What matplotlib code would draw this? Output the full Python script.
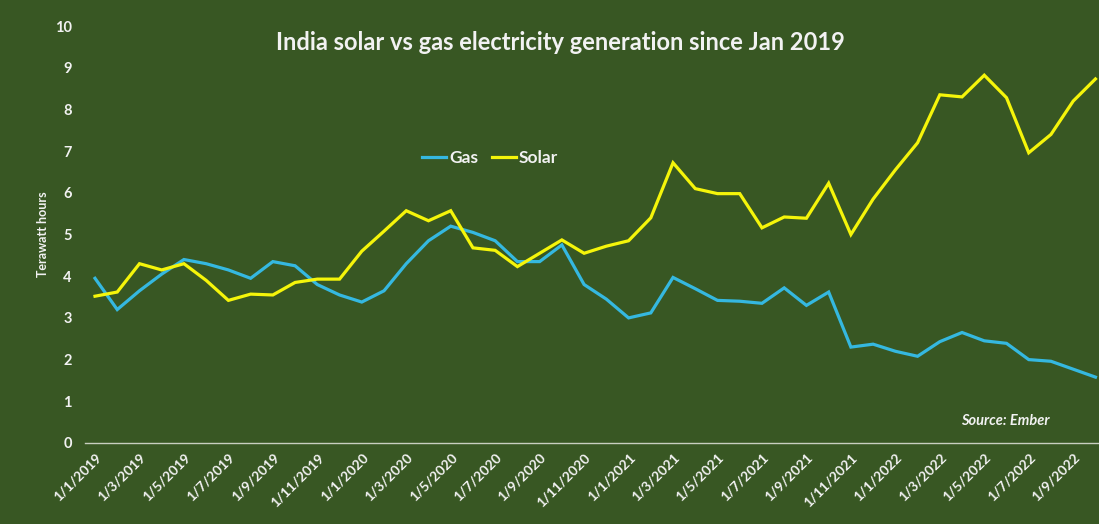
import matplotlib
matplotlib.use("Agg")
import matplotlib.pyplot as plt

# monthly generation, Jan 2019 - Oct 2022 (TWh)
years = [2019] * 12 + [2020] * 12 + [2021] * 12 + [2022] * 10
months = list(range(1, 13)) * 3 + list(range(1, 11))

gas = [3.95, 3.2, 3.65, 4.05, 4.4, 4.3, 4.15, 3.95, 4.35, 4.25, 3.8, 3.55,
       3.38, 3.65, 4.3, 4.85, 5.2, 5.05, 4.85, 4.35, 4.35, 4.75, 3.8, 3.45,
       3.0, 3.12, 3.97, 3.7, 3.42, 3.4, 3.35, 3.72, 3.3, 3.62, 2.3, 2.37,
       2.2, 2.08, 2.43, 2.65, 2.45, 2.39, 2.0, 1.96, 1.77, 1.58]
solar = [3.52, 3.62, 4.3, 4.15, 4.3, 3.9, 3.42, 3.57, 3.55, 3.85, 3.93, 3.93,
         4.6, 5.08, 5.57, 5.33, 5.57, 4.68, 4.62, 4.23, 4.55, 4.87, 4.55, 4.72,
         4.85, 5.4, 6.72, 6.1, 5.98, 5.98, 5.16, 5.42, 5.39, 6.23, 5.0, 5.85,
         6.55, 7.2, 8.35, 8.3, 8.82, 8.28, 6.96, 7.4, 8.2, 8.73]

labels = [f"1/{m}/{y}" for y, m in zip(years, months)]

bg = "#385723"
txt = "#f2f2f2"
plt.rcParams["font.family"] = ["Lato", "DejaVu Sans"]

fig = plt.figure(figsize=(10.99, 5.24), dpi=100, facecolor=bg)
ax = fig.add_axes([85 / 1099, 81 / 524, 1014 / 1099, 417 / 524])
ax.set_facecolor(bg)

x = list(range(len(gas)))
ax.plot(x, gas, color="#35b8e0", lw=2.3, label="Gas", solid_joinstyle="miter")
ax.plot(x, solar, color="#f5f50a", lw=2.3, label="Solar", solid_joinstyle="miter")

ax.set_xlim(-0.45, 45.16)
ax.set_ylim(0, 10)
ax.set_yticks(range(0, 11))
ax.set_xticks(x[::2])
ax.set_xticklabels(labels[::2], rotation=45, ha="right", va="top",
                   rotation_mode="anchor", fontsize=10, fontweight="bold", color=txt)
ax.tick_params(axis="y", length=0, pad=9.5, labelsize=10.5, labelcolor=txt)
ax.tick_params(axis="x", length=0, pad=6)
for t in ax.get_yticklabels():
    t.set_fontweight("bold")

for side in ["top", "right", "left"]:
    ax.spines[side].set_visible(False)
ax.spines["bottom"].set_color("#c8cfc0")
ax.spines["bottom"].set_linewidth(1.0)

ax.set_ylabel("Terawatt hours", fontsize=9, fontweight="bold", color=txt, labelpad=4)

fig.text(560 / 1099, 1 - 42 / 524, "India solar vs gas electricity generation since Jan 2019",
         ha="center", va="center", fontsize=17, fontweight="bold", color=txt)
fig.text(1050 / 1099, 1 - 421 / 524, "Source: Ember", ha="right", va="center",
         fontsize=10.5, fontweight="bold", style="italic", color=txt)

leg = ax.legend(loc="center", bbox_to_anchor=(490 / 1099, 1 - 158 / 524),
                bbox_transform=fig.transFigure, ncol=2, frameon=False,
                handlelength=1.4, handletextpad=0.15, columnspacing=0.8,
                prop={"size": 12.5, "weight": "bold"})
for t in leg.get_texts():
    t.set_color(txt)

fig.savefig("out.png", dpi=100, facecolor=bg)
